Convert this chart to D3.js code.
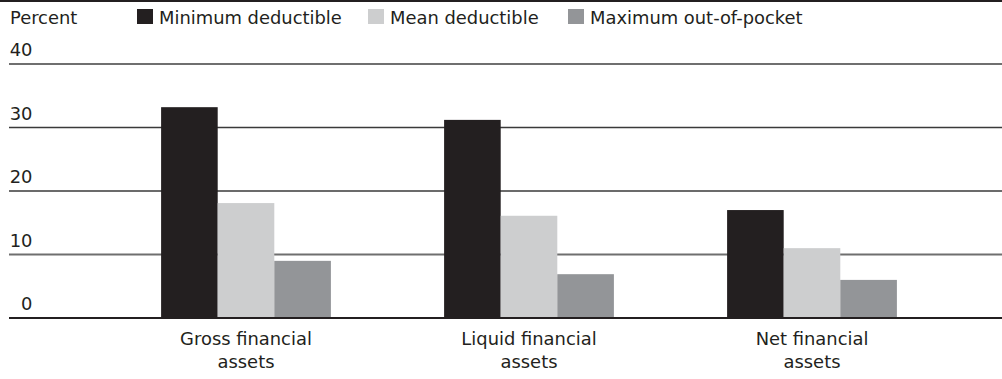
<!DOCTYPE html>
<html><head><meta charset="utf-8">
<script src="https://cdn.jsdelivr.net/npm/d3@7"></script>
<style>html,body{margin:0;padding:0;background:#fff;}svg{display:block;}</style>
</head><body>
<svg id="chart" width="1002" height="379"></svg>
<script>
const categories = [["Gross financial","assets"],["Liquid financial","assets"],["Net financial","assets"]];
const seriesNames = ["Minimum deductible","Mean deductible","Maximum out-of-pocket"];
const minDeductible = [33.2, 31.2, 17.0];
const meanDeductible = [18.1, 16.1, 11.0];
const maxOutOfPocket = [9.0, 6.9, 6.0];
const yTicks = [0, 10, 20, 30, 40];
const colors = ["#231f20", "#cdcecf", "#939598"];

const seriesValues = [minDeductible, meanDeductible, maxOutOfPocket];
const font = "'DejaVu Sans', sans-serif";
const fs = 17.9;
const svg = d3.select("#chart");

const y = d3.scaleLinear().domain([0, 40]).range([318, 64]);
const catKeys = categories.map(c => c.join(" "));
const x0 = d3.scaleBand().domain(catKeys).range([104.5, 953.5]).paddingInner(0.4).paddingOuter(0.2);
const x1 = d3.scaleBand().domain(seriesNames).range([0, x0.bandwidth()]);

// top rule
svg.append("line").attr("x1", 0).attr("x2", 1002).attr("y1", 1).attr("y2", 1)
  .attr("stroke", "#231f20").attr("stroke-width", 2);

// grid lines
const gridStyle = {0: ["#231f20", 2], 10: ["#6f6f6f", 2], 20: ["#3a3a3a", 1.5], 30: ["#3a3a3a", 1.5], 40: ["#6f6f6f", 2]};
svg.append("g").selectAll("line").data(yTicks).join("line")
  .attr("x1", 9).attr("x2", 1002)
  .attr("y1", d => y(d)).attr("y2", d => y(d))
  .attr("stroke", d => gridStyle[d][0]).attr("stroke-width", d => gridStyle[d][1]);

svg.append("g").selectAll("text").data(yTicks).join("text")
  .attr("x", 32.5).attr("y", d => y(d) - 8)
  .attr("text-anchor", "end")
  .attr("font-family", font).attr("font-size", fs).attr("fill", "#231f20")
  .text(d => d);

// bars
const groups = svg.append("g").selectAll("g").data(catKeys).join("g")
  .attr("transform", d => `translate(${x0(d)},0)`);
groups.selectAll("rect")
  .data((d, i) => seriesNames.map((s, j) => ({s, v: seriesValues[j][i], j})))
  .join("rect")
  .attr("x", d => x1(d.s)).attr("width", x1.bandwidth())
  .attr("y", d => y(d.v)).attr("height", d => y(0) - y(d.v))
  .attr("fill", d => colors[d.j]);

// zero line on top of bars
svg.append("line").attr("x1", 9).attr("x2", 1002).attr("y1", y(0)).attr("y2", y(0))
  .attr("stroke", "#231f20").attr("stroke-width", 2);

// x labels
const xl = svg.append("g").selectAll("text").data(categories).join("text")
  .attr("x", (d, i) => x0(catKeys[i]) + x0.bandwidth() / 2)
  .attr("y", 345)
  .attr("text-anchor", "middle")
  .attr("font-family", font).attr("font-size", fs).attr("fill", "#231f20");
xl.selectAll("tspan").data(d => d).join("tspan")
  .attr("x", function() { return d3.select(this.parentNode).attr("x"); })
  .attr("dy", (d, i) => i === 0 ? 0 : 23)
  .text(d => d);

// "Percent" unit label
svg.append("text").attr("x", 10).attr("y", 24)
  .attr("font-family", font).attr("font-size", fs).attr("fill", "#231f20")
  .text("Percent");

// legend
const legendX = [137, 368, 568];
const lg = svg.append("g").selectAll("g").data(seriesNames).join("g")
  .attr("transform", (d, i) => `translate(${legendX[i]},0)`);
lg.append("rect").attr("x", 0).attr("y", 9).attr("width", 16).attr("height", 15)
  .attr("fill", (d, i) => colors[i]);
lg.append("text").attr("x", 22).attr("y", 24)
  .attr("font-family", font).attr("font-size", fs).attr("fill", "#231f20")
  .text(d => d);
</script>
</body></html>
